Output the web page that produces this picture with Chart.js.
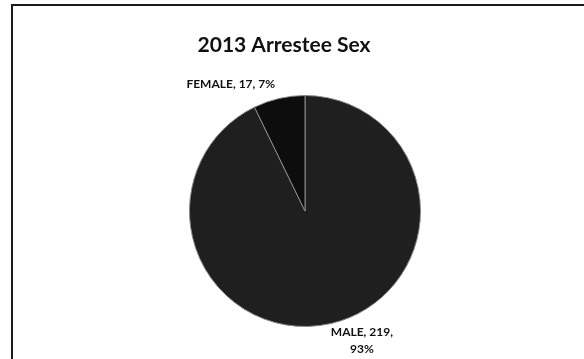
<!DOCTYPE html>
<html>
<head>
<meta charset="utf-8">
<script src="https://cdn.jsdelivr.net/npm/chart.js@4/dist/chart.umd.min.js"></script>
<style>
  html, body { margin: 0; padding: 0; background: #fff; overflow: hidden; }
  #wrap { position: relative; width: 584px; height: 359px; }
  #frame { position: absolute; left: 11px; top: 4px; width: 600px; height: 400px;
           border-top: 2px solid #1a1a1a; border-left: 2px solid #1a1a1a; }
  canvas { position: absolute; left: 0; top: 0; }
</style>
</head>
<body>
<div id="wrap">
  <div id="frame"></div>
  <canvas id="c" width="584" height="359"></canvas>
</div>
<script>
// Arrestees by sex, 2013
const categories = ['MALE', 'FEMALE'];
const counts = [219, 17];
const percents = [93, 7];
const titleText = '2013 Arrestee Sex';

const sliceColors = ['#1f1f1f', '#0d0d0d'];

// Title and outside data labels ("NAME, count, pct%")
const labelPlugin = {
  id: 'pieLabels',
  afterDatasetsDraw(chart) {
    const ctx = chart.ctx;
    ctx.save();
    ctx.fillStyle = '#111';
    ctx.font = 'bold 21px Lato, "DejaVu Sans", sans-serif';
    ctx.textAlign = 'center';
    ctx.textBaseline = 'middle';
    ctx.fillText(titleText, 284, 45);

    ctx.font = 'bold 12px Lato, "DejaVu Sans", sans-serif';
    const meta = chart.getDatasetMeta(0);
    meta.data.forEach((arc, i) => {
      const mid = (arc.startAngle + arc.endAngle) / 2;
      const ex = arc.x + Math.cos(mid) * arc.outerRadius;
      const ey = arc.y + Math.sin(mid) * arc.outerRadius;
      const name = categories[i];
      if (Math.sin(mid) < 0) {
        // upper slice: single line, right-aligned above the rim
        ctx.textAlign = 'right';
        ctx.fillText(name + ', ' + counts[i] + ', ' + percents[i] + '%', ex - 4, ey - 14);
      } else {
        // lower slice: two lines centered below-right of the rim
        ctx.textAlign = 'center';
        ctx.fillText(name + ', ' + counts[i] + ',', ex + 31, ey + 9);
        ctx.fillText(percents[i] + '%', ex + 31, ey + 26);
      }
    });
    ctx.restore();
  }
};

new Chart(document.getElementById('c'), {
  type: 'pie',
  data: {
    labels: categories,
    datasets: [{
      data: counts,
      backgroundColor: sliceColors,
      borderColor: '#8a8a8a',
      borderWidth: 1
    }]
  },
  options: {
    responsive: false,
    animation: false,
    layout: { padding: { left: 189, right: 163, top: 95, bottom: 32 } },
    plugins: {
      legend: { display: false },
      tooltip: { enabled: false },
      title: { display: false }
    }
  },
  plugins: [labelPlugin]
});
</script>
</body>
</html>
